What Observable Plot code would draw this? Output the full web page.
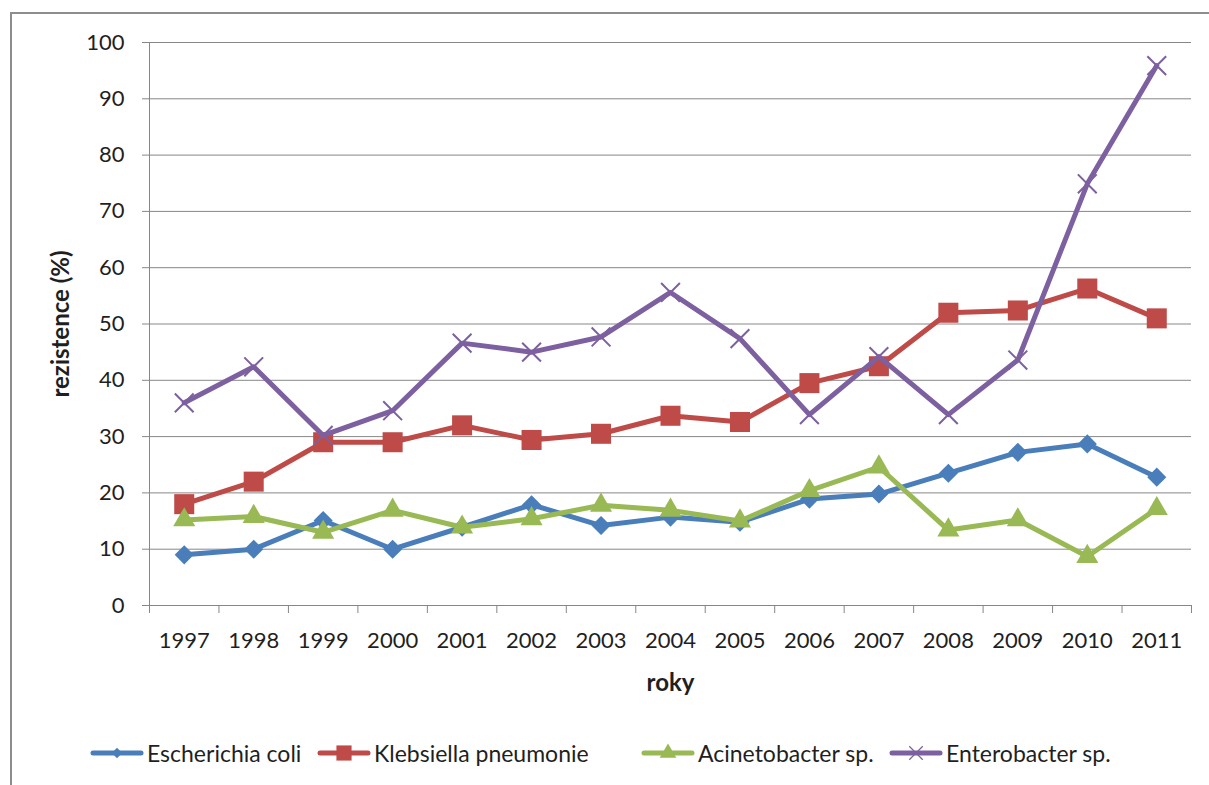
<!DOCTYPE html>
<html>
<head>
<meta charset="utf-8">
<script src="https://cdn.jsdelivr.net/npm/d3@7"></script>
<script src="https://cdn.jsdelivr.net/npm/@observablehq/plot@0.6"></script>
<style>
  html, body { margin: 0; padding: 0; background: #fff; overflow: hidden; }
  #frame { position: absolute; left: 10px; top: 12px; width: 1300px; height: 900px; border: 2px solid #8d8d8d; box-sizing: border-box; }
  #chart { position: absolute; left: 0; top: 0; }
  #legend { position: absolute; left: 0; top: 738px; width: 1209px; height: 30px; font-family: Lato, sans-serif; font-size: 23px; color: #1f1f1f; }
  .item { position: absolute; top: 0; height: 30px; display: flex; align-items: center; white-space: nowrap; }
  .item svg { margin-right: 3px; }
</style>
</head>
<body>
<div id="frame"></div>
<div id="chart"></div>
<div id="legend"></div>
<script>
// Years on the x axis
const years = [1997, 1998, 1999, 2000, 2001, 2002, 2003, 2004, 2005, 2006, 2007, 2008, 2009, 2010, 2011];
// Resistance (%) per organism
const ecoli        = [9, 10, 15.1, 10, 13.9, 17.9, 14.2, 15.7, 14.8, 18.9, 19.8, 23.5, 27.2, 28.7, 22.8];
const klebsiella   = [18, 22, 29, 29, 32, 29.4, 30.5, 33.7, 32.6, 39.5, 42.5, 52, 52.4, 56.3, 51];
const acinetobacter = [15.2, 15.8, 13, 16.9, 13.9, 15.4, 17.8, 16.9, 15, 20.4, 24.6, 13.4, 15.2, 8.7, 17.2];
const enterobacter = [36, 42.4, 30.2, 34.6, 46.6, 45, 47.7, 55.6, 47.4, 33.9, 44.2, 33.9, 43.6, 74.9, 95.9];
// Series names and y tick values
const seriesNames = ["Escherichia coli", "Klebsiella pneumonie", "Acinetobacter sp.", "Enterobacter sp."];
const yTicks = [0, 10, 20, 30, 40, 50, 60, 70, 80, 90, 100];

const styles = [
  {values: ecoli,         color: "#4a7ebb", symbol: "diamond2", r: 8.6, legendSize: 70,  stroked: false},
  {values: klebsiella,    color: "#be4b48", symbol: "square",   r: 11.3, legendSize: 230, stroked: false},
  {values: acinetobacter, color: "#98b954", symbol: "triangle", r: 8.2, legendSize: 120, stroked: false},
  {values: enterobacter,  color: "#7d60a0", symbol: "times",    r: 8.6, legendSize: 120, stroked: true}
];

const series = seriesNames.map((name, k) => ({
  name, ...styles[k],
  rows: years.map((year, i) => ({year, value: styles[k].values[i]}))
}));

// Category boundaries where the x axis ticks sit
const boundaries = years.map(y => y - 0.5).concat([years[years.length - 1] + 0.5]);
const grey = "#878787";
const ink = "#1f1f1f";

const marks = [
  Plot.gridY(yTicks.slice(1), {stroke: grey, strokeOpacity: 1, strokeWidth: 1}),
  Plot.ruleX([boundaries[0]], {stroke: grey, strokeWidth: 1}),
  Plot.ruleY([0], {stroke: grey, strokeWidth: 1}),
  Plot.axisY({ticks: yTicks, tickSize: 7, tickPadding: 18, fontSize: 22, label: null, stroke: grey, fill: ink}),
  Plot.axisX({ticks: boundaries, tickSize: 8, tickFormat: () => "", label: null, stroke: grey}),
  Plot.axisX({ticks: years, tickSize: 0, tickPadding: 27, fontSize: 22, tickFormat: d => String(d), label: null, fill: ink}),
  Plot.text(["roky"], {text: d => d, frameAnchor: "bottom", dy: 78, textAnchor: "middle", lineAnchor: "middle", fontWeight: "bold", fontSize: 24, fill: ink}),
  Plot.text(["rezistence (%)"], {text: d => d, frameAnchor: "left", dx: -88, rotate: -90, textAnchor: "middle", lineAnchor: "middle", fontWeight: "bold", fontSize: 24, fill: ink})
];

for (const s of series) {
  marks.push(Plot.line(s.rows, {x: "year", y: "value", stroke: s.color, strokeWidth: 5, strokeLinejoin: "round", strokeLinecap: "round"}));
  marks.push(s.stroked
    ? Plot.dot(s.rows, {x: "year", y: "value", symbol: s.symbol, r: s.r, stroke: s.color, strokeWidth: 2, fill: "none"})
    : Plot.dot(s.rows, {x: "year", y: "value", symbol: s.symbol, r: s.r, fill: s.color, stroke: "none"}));
}

const chart = Plot.plot({
  width: 1209,
  height: 700,
  marginLeft: 149,
  marginRight: 18,
  marginTop: 42,
  marginBottom: 95,
  x: {domain: [boundaries[0], boundaries[boundaries.length - 1]], axis: null},
  y: {domain: [0, 100], axis: null},
  style: {background: "transparent", fontFamily: "Lato, sans-serif", overflow: "visible", maxWidth: "none"},
  marks
});
document.getElementById("chart").appendChild(chart);

// Legend below the chart
const legendLeft = [90, 317, 641, 889];
const legend = d3.select("#legend");
series.forEach((s, k) => {
  const item = legend.append("div").attr("class", "item").style("left", legendLeft[k] + "px");
  const svg = item.append("svg").attr("width", 54).attr("height", 20);
  svg.append("line").attr("x1", 3).attr("x2", 51).attr("y1", 10).attr("y2", 10)
    .attr("stroke", s.color).attr("stroke-width", 5).attr("stroke-linecap", "round");
  const symbolType = {diamond2: d3.symbolDiamond2, square: d3.symbolSquare, triangle: d3.symbolTriangle, times: d3.symbolTimes}[s.symbol];
  svg.append("path").attr("transform", "translate(27,10)")
    .attr("d", d3.symbol(symbolType, s.legendSize)())
    .attr("fill", s.stroked ? "none" : s.color)
    .attr("stroke", s.stroked ? s.color : "none")
    .attr("stroke-width", s.stroked ? 1.2 : 0);
  item.append("span").text(s.name);
});
</script>
</body>
</html>
